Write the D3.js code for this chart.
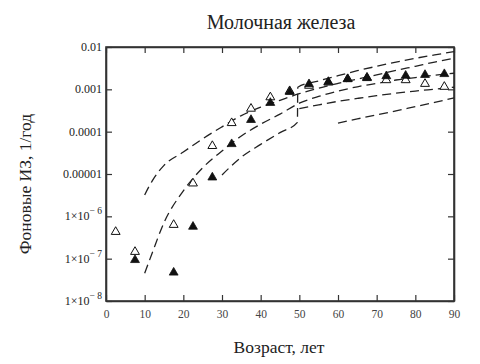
<!DOCTYPE html>
<html>
<head>
<meta charset="utf-8">
<script src="https://cdn.jsdelivr.net/npm/d3@7"></script>
<style>
  body { margin: 0; background: #fff; }
  svg text { font-family: "Liberation Serif", "Times New Roman", "DejaVu Serif", serif !important; }
</style>
</head>
<body>
<div id="chart"></div>
<script>
/* CONSTANTS AND GLOBALS */
const width = 480,
  height = 364,
  margin = { top: 47, bottom: 63, left: 106, right: 26 };
const serif = "'Liberation Serif', 'Times New Roman', serif";

// ages of the 5-year groups (midpoints)
const openAges = [2.5, 7.5, 17.5, 22.5, 27.5, 32.5, 37.5, 42.5, 47.5, 52.5, 57.5, 62.5, 67.5, 72.5, 77.5, 82.5, 87.5];
const openRates = [4.3e-7, 1.45e-7, 6.3e-7, 6.0e-6, 4.6e-5, 1.6e-4, 3.5e-4, 6.5e-4, 9.1e-4, 1.22e-3, 1.45e-3, 1.75e-3, 1.85e-3, 1.65e-3, 1.65e-3, 1.35e-3, 1.15e-3];

const filledAges = [7.5, 17.5, 22.5, 27.5, 32.5, 37.5, 42.5, 47.5, 52.5, 57.5, 62.5, 67.5, 72.5, 77.5, 82.5, 87.5];
const filledRates = [9.3e-8, 4.7e-8, 5.7e-7, 8.3e-6, 5.1e-5, 1.9e-4, 4.8e-4, 8.7e-4, 1.33e-3, 1.5e-3, 1.75e-3, 1.9e-3, 2.05e-3, 2.1e-3, 2.2e-3, 2.3e-3];

// model curves (dashed)
const curveA_age = [10, 12, 15, 20, 25, 30, 35, 40, 45, 50, 55, 60, 65, 70, 75, 80, 85, 90];
const curveA_val = [3.2e-6, 7.0e-6, 1.6e-5, 3.3e-5, 6.8e-5, 1.3e-4, 2.4e-4, 3.8e-4, 5.5e-4, 7.9e-4, 1.07e-3, 1.38e-3, 1.74e-3, 2.2e-3, 2.8e-3, 3.5e-3, 4.4e-3, 5.4e-3];

const curveB_age = [10, 12, 15, 20, 25, 30, 35, 40, 45, 50, 55, 60, 65, 70, 75, 80, 85, 90];
const curveB_val = [4.5e-8, 1.4e-7, 7.1e-7, 4.0e-6, 1.4e-5, 3.5e-5, 7.9e-5, 1.5e-4, 2.6e-4, 4.7e-4, 6.8e-4, 9.1e-4, 1.15e-3, 1.38e-3, 1.66e-3, 1.9e-3, 2.15e-3, 2.4e-3];

const curveC_age = [30, 35, 40, 45, 49.5, 49.6, 55, 60, 65, 70, 75, 80, 85, 90];
const curveC_val = [9.5e-6, 2.5e-5, 5.0e-5, 9.5e-5, 1.66e-4, 1.12e-3, 1.58e-3, 2.1e-3, 2.75e-3, 3.5e-3, 4.4e-3, 5.4e-3, 6.5e-3, 7.8e-3];

const curveD_age = [60, 65, 70, 75, 80, 85, 90];
const curveD_val = [1.6e-4, 2.0e-4, 2.5e-4, 3.1e-4, 3.9e-4, 4.9e-4, 6.3e-4];

const curveE_age = [50, 55, 60, 65, 70, 75, 80, 85, 90];
const curveE_val = [3.5e-4, 4.3e-4, 5.2e-4, 6.1e-4, 7.1e-4, 8.1e-4, 9.1e-4, 1.01e-3, 1.12e-3];

const xTicks = [0, 10, 20, 30, 40, 50, 60, 70, 80, 90];
const yTicks = [1e-8, 1e-7, 1e-6, 1e-5, 1e-4, 1e-3, 1e-2];
const yTickText = ["1×10", "1×10", "1×10", "0.00001", "0.0001", "0.001", "0.01"];
const yTickExp = ["− 8", "− 7", "− 6", "", "", "", ""];

const title = "Молочная железа";
const xTitle = "Возраст, лет";
const yTitle = "Фоновые ИЗ, 1/год";

/* SCALES */
const xScale = d3.scaleLinear()
  .domain([0, 90])
  .range([margin.left, width - margin.right]);

const yScale = d3.scaleLog()
  .domain([1e-8, 1e-2])
  .range([height - margin.bottom, margin.top]);

const svg = d3.select("#chart")
  .append("svg")
  .attr("width", width)
  .attr("height", height)
  .attr("font-family", serif);

// + AXES (ticks point inward on all four sides)
const axisColor = "#333";

svg.append("g")
  .attr("transform", `translate(0,${height - margin.bottom})`)
  .call(d3.axisBottom(xScale).tickValues(xTicks).tickSizeInner(-6).tickSizeOuter(0).tickPadding(9))
  .attr("font-family", serif)
  .call(g => g.selectAll("text")
    .attr("font-size", 11.5)
    .attr("fill", "#444"));

svg.append("g")
  .attr("transform", `translate(0,${margin.top})`)
  .call(d3.axisTop(xScale).tickValues(xTicks).tickSizeInner(-6).tickSizeOuter(0).tickFormat(""));

svg.append("g")
  .attr("transform", `translate(${margin.left},0)`)
  .call(d3.axisLeft(yScale).tickValues(yTicks).tickSizeInner(-6).tickSizeOuter(0).tickFormat(""));

svg.append("g")
  .attr("transform", `translate(${width - margin.right},0)`)
  .call(d3.axisRight(yScale).tickValues(yTicks).tickSizeInner(-6).tickSizeOuter(0).tickFormat(""));

svg.selectAll(".domain").attr("stroke", axisColor).attr("stroke-width", 1.6);
svg.selectAll(".tick line").attr("stroke", axisColor).attr("stroke-width", 1.2);

// y tick labels with superscripts
yTicks.forEach((t, i) => {
  const label = svg.append("text")
    .attr("x", margin.left - 4)
    .attr("y", yScale(t) + 4)
    .attr("text-anchor", "end")
    .attr("font-family", serif)
    .attr("font-size", 12)
    .attr("fill", "#222");
  label.append("tspan").text(yTickText[i]);
  if (yTickExp[i]) {
    label.append("tspan")
      .attr("dy", -6)
      .attr("font-size", 9.5)
      .text(yTickExp[i]);
  }
});

// frame
svg.append("rect")
  .attr("x", margin.left)
  .attr("y", margin.top)
  .attr("width", width - margin.left - margin.right)
  .attr("height", height - margin.top - margin.bottom)
  .attr("fill", "none")
  .attr("stroke", axisColor)
  .attr("stroke-width", 1.6);

/* CURVES */
svg.append("clipPath").attr("id", "clip")
  .append("rect")
  .attr("x", margin.left)
  .attr("y", margin.top)
  .attr("width", width - margin.left - margin.right)
  .attr("height", height - margin.top - margin.bottom);

const line = d3.line()
  .x(d => xScale(d[0]))
  .y(d => yScale(d[1]))
  .curve(d3.curveMonotoneX);

const curves = [
  [curveA_age, curveA_val],
  [curveB_age, curveB_val],
  [curveC_age, curveC_val],
  [curveD_age, curveD_val],
  [curveE_age, curveE_val]
].map(([a, v]) => a.map((x, i) => [x, v[i]]));

svg.append("g")
  .attr("clip-path", "url(#clip)")
  .selectAll("path")
  .data(curves)
  .join("path")
  .attr("d", line)
  .attr("fill", "none")
  .attr("stroke", "#222")
  .attr("stroke-width", 1.3)
  .attr("stroke-dasharray", "9,5");

/* POINTS */
const tri = d3.symbol().type(d3.symbolTriangle).size(34);

svg.append("g")
  .selectAll("path")
  .data(openAges.map((a, i) => [a, openRates[i]]))
  .join("path")
  .attr("d", tri)
  .attr("transform", d => `translate(${xScale(d[0])},${yScale(d[1])})`)
  .attr("fill", "#fff")
  .attr("stroke", "#111")
  .attr("stroke-width", 1);

svg.append("g")
  .selectAll("path")
  .data(filledAges.map((a, i) => [a, filledRates[i]]))
  .join("path")
  .attr("d", tri)
  .attr("transform", d => `translate(${xScale(d[0])},${yScale(d[1])})`)
  .attr("fill", "#111")
  .attr("stroke", "#111")
  .attr("stroke-width", 0.8);

/* TITLES */
svg.append("text")
  .attr("x", 281)
  .attr("y", 29)
  .attr("text-anchor", "middle")
  .attr("font-size", 20)
  .attr("fill", "#222")
  .text(title);

svg.append("text")
  .attr("x", 279)
  .attr("y", 353)
  .attr("text-anchor", "middle")
  .attr("font-size", 17.5)
  .attr("fill", "#222")
  .text(xTitle);

svg.append("text")
  .attr("transform", `translate(31,184) rotate(-90)`)
  .attr("text-anchor", "middle")
  .attr("font-size", 17.5)
  .attr("fill", "#222")
  .text(yTitle);
</script>
</body>
</html>
